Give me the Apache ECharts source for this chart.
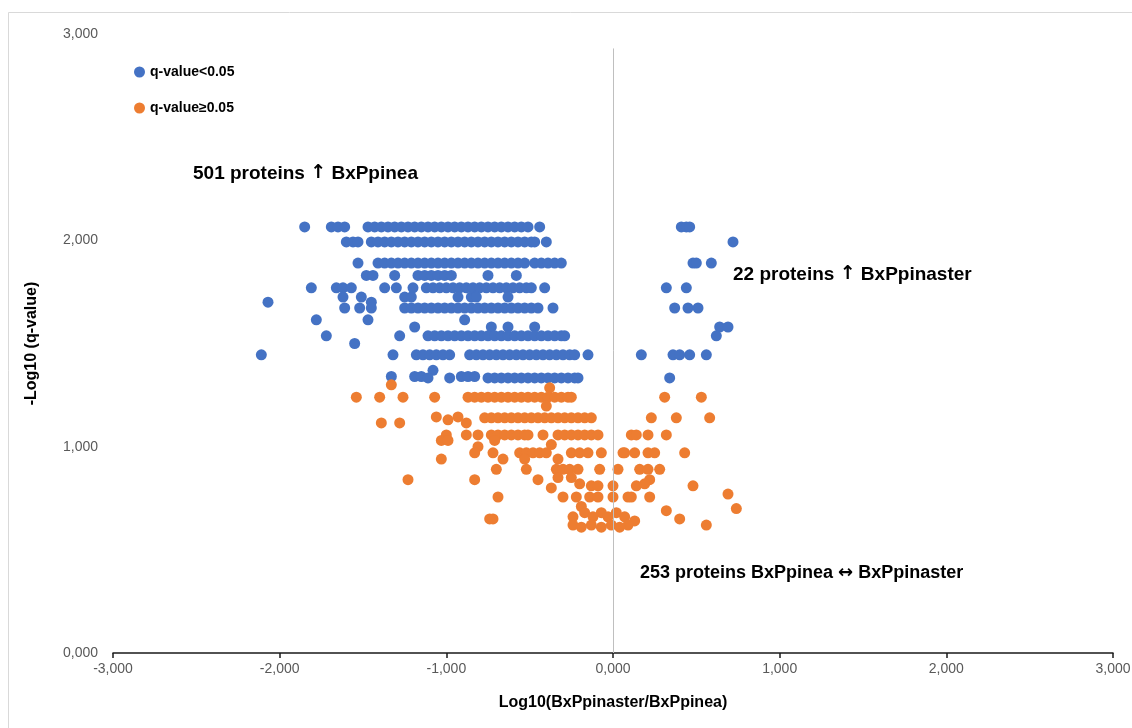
<!DOCTYPE html>
<html>
<head>
<meta charset="utf-8">
<script src="https://cdn.jsdelivr.net/npm/echarts@6/dist/echarts.min.js"></script>
<style>
html,body{margin:0;padding:0;background:#fff;}
#chart{width:1132px;height:728px;}
</style>
</head>
<body>
<div id="chart"></div>
<script>
// ---- data ----
const xTicks = [-3, -2, -1, 0, 1, 2, 3];
const yTicks = [0, 1, 2, 3];
const seriesNames = ['q-value<0.05', 'q-value\u22650.05'];

// significant proteins (q < 0.05): rows of [y, [x values]]
const sigRows = [
  [2.065, [-1.85,-1.69,-1.65,-1.61,-1.47,-1.43,-1.39,-1.35,-1.31,-1.27,-1.23,-1.19,-1.15,-1.11,-1.07,-1.03,-0.99,-0.95,-0.91,-0.87,-0.83,-0.79,-0.75,-0.71,-0.67,-0.63,-0.59,-0.55,-0.51,-0.44,0.41,0.44,0.46]],
  [1.992, [-1.60,-1.56,-1.53,-1.45,-1.41,-1.37,-1.33,-1.29,-1.25,-1.21,-1.17,-1.13,-1.09,-1.05,-1.01,-0.97,-0.93,-0.89,-0.85,-0.81,-0.77,-0.73,-0.69,-0.65,-0.61,-0.57,-0.53,-0.49,-0.47,-0.40,0.72]],
  [1.890, [-1.53,-1.41,-1.37,-1.33,-1.29,-1.25,-1.21,-1.17,-1.13,-1.09,-1.05,-1.01,-0.97,-0.93,-0.89,-0.85,-0.81,-0.77,-0.73,-0.69,-0.65,-0.61,-0.57,-0.53,-0.47,-0.43,-0.39,-0.35,-0.31,0.48,0.50,0.59]],
  [1.830, [-1.48,-1.44,-1.31,-1.17,-1.13,-1.09,-1.05,-1.01,-0.97,-0.75,-0.58]],
  [1.770, [-1.81,-1.66,-1.62,-1.57,-1.37,-1.30,-1.20,-1.12,-1.08,-1.04,-1.00,-0.96,-0.92,-0.88,-0.84,-0.80,-0.76,-0.72,-0.68,-0.64,-0.60,-0.56,-0.52,-0.49,-0.41,0.32,0.44]],
  [1.725, [-1.62,-1.51,-1.25,-1.21,-0.93,-0.85,-0.82,-0.63]],
  [1.700, [-2.07,-1.45]],
  [1.672, [-1.61,-1.52,-1.45,-1.25,-1.21,-1.17,-1.13,-1.09,-1.05,-1.01,-0.97,-0.93,-0.89,-0.85,-0.81,-0.77,-0.73,-0.69,-0.65,-0.61,-0.57,-0.53,-0.49,-0.45,-0.36,0.37,0.45,0.51]],
  [1.615, [-1.78,-1.47,-0.89]],
  [1.580, [-1.19,-0.73,-0.63,-0.47,0.64,0.69]],
  [1.537, [-1.72,-1.28,-1.11,-1.07,-1.03,-0.99,-0.95,-0.91,-0.87,-0.83,-0.79,-0.75,-0.71,-0.67,-0.63,-0.59,-0.55,-0.51,-0.47,-0.43,-0.39,-0.35,-0.31,-0.29,0.62]],
  [1.500, [-1.55]],
  [1.445, [-2.11,-1.32,-1.18,-1.14,-1.10,-1.06,-1.02,-0.98,-0.86,-0.82,-0.78,-0.74,-0.70,-0.66,-0.62,-0.58,-0.54,-0.50,-0.46,-0.42,-0.38,-0.34,-0.30,-0.26,-0.23,-0.15,0.17,0.36,0.40,0.46,0.56]],
  [1.370, [-1.08]],
  [1.340, [-1.33,-1.19,-1.15,-0.91,-0.87,-0.83]],
  [1.333, [-1.11,-0.98,-0.75,-0.71,-0.67,-0.63,-0.59,-0.55,-0.51,-0.47,-0.43,-0.39,-0.35,-0.31,-0.27,-0.23,-0.21,0.34]]
];

// non-significant proteins (q >= 0.05): rows of [y, [x values]]
const nsRows = [
  [1.300, [-1.33]],
  [1.285, [-0.38]],
  [1.240, [-1.54,-1.40,-1.26,-1.07,-0.87,-0.83,-0.79,-0.75,-0.71,-0.67,-0.63,-0.59,-0.55,-0.51,-0.47,-0.43,-0.39,-0.35,-0.31,-0.27,-0.25,0.31,0.53]],
  [1.197, [-0.40]],
  [1.144, [-1.06,-0.93]],
  [1.140, [-0.77,-0.73,-0.69,-0.65,-0.61,-0.57,-0.53,-0.49,-0.45,-0.41,-0.37,-0.33,-0.29,-0.25,-0.21,-0.17,-0.13,0.23,0.38,0.58]],
  [1.130, [-0.99]],
  [1.115, [-1.39,-1.28,-0.88]],
  [1.057, [-1.00,-0.88,-0.81,-0.73,-0.69,-0.65,-0.61,-0.57,-0.53,-0.51,-0.42,-0.33,-0.29,-0.25,-0.21,-0.17,-0.13,-0.09,0.11,0.14,0.21,0.32]],
  [1.030, [-1.03,-0.99,-0.71]],
  [1.010, [-0.37]],
  [1.000, [-0.81]],
  [0.970, [-0.83,-0.72,-0.56,-0.52,-0.48,-0.44,-0.40,-0.25,-0.20,-0.15,-0.07,0.06,0.07,0.13,0.21,0.25,0.43]],
  [0.940, [-1.03,-0.66,-0.53,-0.33]],
  [0.890, [-0.70,-0.52,-0.34,-0.30,-0.26,-0.21,-0.08,0.03,0.16,0.21,0.28]],
  [0.850, [-0.33,-0.25]],
  [0.840, [-1.23,-0.83,-0.45,0.22]],
  [0.820, [-0.20,0.19]],
  [0.810, [-0.13,-0.09,0.00,0.14,0.48]],
  [0.800, [-0.37]],
  [0.770, [0.69]],
  [0.756, [-0.69,-0.30,-0.22,-0.14,-0.09,0.00,0.09,0.11,0.22]],
  [0.710, [-0.19]],
  [0.700, [0.74]],
  [0.690, [0.32]],
  [0.680, [-0.17,-0.07,0.02]],
  [0.660, [-0.24,-0.12,-0.03,0.07]],
  [0.650, [-0.74,-0.72,0.40]],
  [0.640, [0.13]],
  [0.620, [-0.24,-0.13,-0.01,0.09,0.56]],
  [0.610, [-0.19,-0.07,0.04]]
];

// annotation texts split as [before arrow, arrow, after arrow]
const annotations = [
  ['501 proteins ', '\u2191', ' BxPpinea'],
  ['22 proteins ', '\u2191', ' BxPpinaster'],
  ['253 proteins BxPpinea ', '\u2194', ' BxPpinaster']
];
const xTitle = 'Log10(BxPpinaster/BxPpinea)';
const yTitle = '-Log10 (q-value)';

// ---- build ----
function flatten(rows) {
  const out = [];
  rows.forEach(r => r[1].forEach(x => out.push([x, r[0]])));
  return out;
}
const sigData = flatten(sigRows);
const nsData = flatten(nsRows);

const FONT = '"Liberation Sans", Arial, sans-serif';
const ARROWFONT = '"DejaVu Sans", sans-serif';
const fmt = v => v.toFixed(3).replace('.', ',');

function annot(parts, left, top, size) {
  return {
    type: 'text', left: left, top: top,
    style: {
      text: '{t|' + parts[0] + '}{a|' + parts[1] + '}{t|' + parts[2] + '}',
      rich: {
        t: {fontFamily: FONT, fontWeight: 'bold', fontSize: size, fill: '#000', color: '#000'},
        a: {fontFamily: ARROWFONT, fontWeight: 'bold', fontSize: size, fill: '#000', color: '#000'}
      }
    }
  };
}

const chart = echarts.init(document.getElementById('chart'), null, {renderer: 'canvas'});
chart.setOption({
  backgroundColor: '#ffffff',
  animation: false,
  textStyle: {fontFamily: FONT},
  grid: {left: 113, right: 19, top: 34, bottom: 75, containLabel: false, outerBoundsMode: 'none'},
  legend: {
    orient: 'vertical',
    left: 129, top: 60,
    itemWidth: 11, itemHeight: 11, itemGap: 22,
    icon: 'circle',
    data: seriesNames,
    textStyle: {fontFamily: FONT, fontSize: 14, fontWeight: 'bold', color: '#000'}
  },
  xAxis: {
    type: 'value', min: xTicks[0], max: xTicks[xTicks.length - 1], interval: 1,
    name: xTitle, nameLocation: 'middle', nameGap: 42,
    nameTextStyle: {fontFamily: FONT, fontSize: 16, fontWeight: 'bold', color: '#000'},
    axisLine: {show: true, onZero: false, lineStyle: {color: '#1a1a1a', width: 1.5}},
    axisTick: {show: true, length: 5, lineStyle: {color: '#1a1a1a', width: 1.5}},
    splitLine: {show: false},
    axisLabel: {formatter: fmt, color: '#595959', fontSize: 14, margin: 9, fontFamily: FONT}
  },
  yAxis: {
    type: 'value', min: yTicks[0], max: yTicks[yTicks.length - 1], interval: 1,
    name: yTitle, nameLocation: 'middle', nameGap: 73, nameRotate: 90,
    nameTextStyle: {fontFamily: FONT, fontSize: 16, fontWeight: 'bold', color: '#000'},
    axisLine: {show: false}, axisTick: {show: false}, splitLine: {show: false},
    axisLabel: {formatter: fmt, color: '#595959', fontSize: 14, margin: 15, fontFamily: FONT}
  },
  series: [
    {
      name: seriesNames[0], type: 'scatter', data: sigData, symbolSize: 11,
      itemStyle: {color: '#4472C4', opacity: 1},
      markLine: {
        silent: true, symbol: ['none', 'none'], label: {show: false},
        lineStyle: {color: '#BFBFBF', width: 1, type: 'solid'},
        data: [[{coord: [0, 0]}, {coord: [0, 2.93]}]]
      },
      z: 2
    },
    {
      name: seriesNames[1], type: 'scatter', data: nsData, symbolSize: 11,
      itemStyle: {color: '#ED7D31', opacity: 1},
      z: 3
    }
  ],
  graphic: [
    {type: 'rect', shape: {x: 8.5, y: 12.5, width: 1140, height: 740}, style: {fill: 'none', stroke: '#D9D9D9', lineWidth: 1}, silent: true, z: -1},
    annot(annotations[0], 193, 164, 19),
    annot(annotations[1], 733, 265, 19),
    annot(annotations[2], 640, 564, 18)
  ]
});
</script>
</body>
</html>
